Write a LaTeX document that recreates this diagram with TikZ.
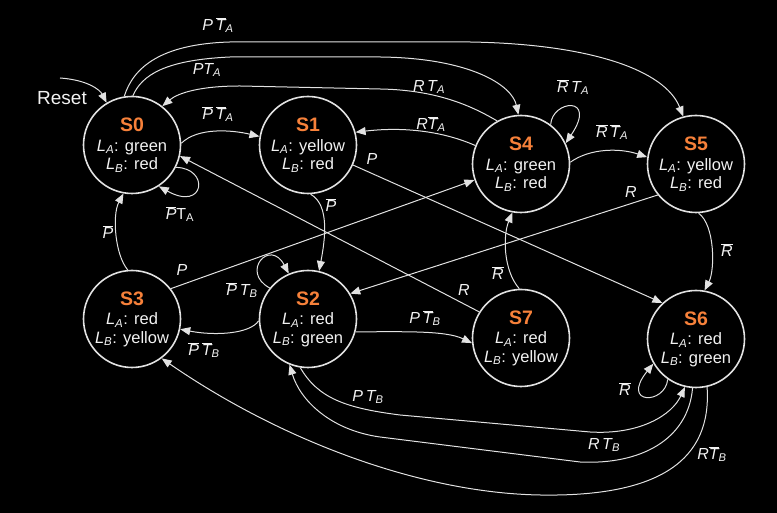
\documentclass[tikz,border=0pt]{standalone}
\usepackage{fontspec}
\setmainfont{Liberation Sans}
\usetikzlibrary{arrows.meta}
\definecolor{sorange}{HTML}{F7813A}
\definecolor{lgray}{HTML}{E2E2E2}
\definecolor{tw}{HTML}{F2F2F2}
\newcommand\ttl[1]{{\fontsize{19.5}{21}\selectfont\bfseries\color{sorange}#1}}
\newcommand\lab[2]{\textit{L}\textsubscript{\textit{#1}}: #2}
\newcommand\nb[1]{$\overline{\mbox{\itshape #1}}$}
\newcommand\ssub[1]{\textsubscript{\itshape #1}}
\begin{document}
\begin{tikzpicture}[x=1pt,y=1pt,
  st/.style={circle,draw=lgray,line width=1.6pt,fill=black,minimum size=97pt,inner sep=0pt,
    align=center,text=tw,font=\fontsize{16.5}{18.5}\selectfont},
  el/.style={text=tw,inner sep=0pt,font=\fontsize{16}{18}\selectfont\itshape},
  tr/.style={draw=lgray,line width=1pt,-{Triangle[length=10pt,width=8pt]},color=lgray},
]
\fill[black] (0,0) rectangle (777,513);
\useasboundingbox (0,0) rectangle (777,513);

% states
\node[st] (s0) at (132,368) {\ttl{S0}\\[1pt]\lab{A}{green}\\\lab{B}{red}};
\node[st] (s1) at (308,368) {\ttl{S1}\\[1pt]\lab{A}{yellow}\\\lab{B}{red}};
\node[st] (s4) at (521,349) {\ttl{S4}\\[1pt]\lab{A}{green}\\\lab{B}{red}};
\node[st] (s5) at (696,349) {\ttl{S5}\\[1pt]\lab{A}{yellow}\\\lab{B}{red}};
\node[st] (s3) at (132,194) {\ttl{S3}\\[1pt]\lab{A}{red}\\\lab{B}{yellow}};
\node[st] (s2) at (308,194) {\ttl{S2}\\[1pt]\lab{A}{red}\\\lab{B}{green}};
\node[st] (s7) at (521,175) {\ttl{S7}\\[1pt]\lab{A}{red}\\\lab{B}{yellow}};
\node[st] (s6) at (696,174) {\ttl{S6}\\[1pt]\lab{A}{red}\\\lab{B}{green}};

% reset
\coordinate (rs) at (60,435);
\node[text=tw,inner sep=0pt,font=\fontsize{19}{21}\selectfont] (lreset) at (62,415) {Reset};
\draw[tr] (rs) .. controls (88,433) and (100,423) .. (s0.121);

% transitions
\draw[tr] (s0.2) .. controls (198,386) and (232,383) .. (s1.170);
\node[el] (l01) at (218,399) {\nb{P}\,\nb{T}\ssub{A}};

\draw[tr] (s0.-27) .. controls (210,345) and (205,301) .. (s0.-57);
\node[el] (l00) at (180,299) {\nb{P}{\upshape T\textsubscript{A}}};

\draw[tr] (s0.99) .. controls (133,445) and (160,469) .. (230,471) -- (470,471) .. controls (590,469) and (665,443) .. (s5.105);
\node[el] (l05) at (218,488) {P\,\nb{T}\ssub{A}};

\draw[tr] (s0.89) .. controls (142,438) and (165,453) .. (230,456) -- (380,456) .. controls (470,455) and (512,428) .. (s4.93);
\node[el] (l04) at (207,443) {PT\ssub{A}};

\draw[tr] (s4.119) .. controls (475,405) and (440,423) .. (380,424) -- (240,427) .. controls (200,427) and (178,420) .. (s0.52);
\node[el] (l40) at (429,426) {R\,T\ssub{A}};

\draw[tr] (s4.158) .. controls (440,383) and (400,386) .. (s1.15);
\node[el] (l41) at (431,389) {R\nb{T}\ssub{A}};

\draw[tr] (s4.53) .. controls (552,413) and (598,418) .. (s4.25);
\node[el] (l44) at (573,426) {\nb{R}\,T\ssub{A}};

\draw[tr] (s4.2) .. controls (590,365) and (620,365) .. (s5.172);
\node[el] (l45) at (612,381) {\nb{R}\,\nb{T}\ssub{A}};

\draw[tr] (s5.-87) .. controls (715,288) and (715,243) .. (s6.80);
\node[el] (l56) at (727,263) {\nb{R}};

\draw[tr] (s5.-141) -- (s2.31);
\node[el] (l52) at (631,321) {R};

\draw[tr] (s1.-87) .. controls (330,308) and (325,273) .. (s2.77);
\node[el] (l12) at (331,308) {\nb{P}};

\draw[tr] (s1.-24) -- (s6.133);
\node[el] (l16) at (372,354) {P};

\draw[tr] (s3.95) .. controls (115,258) and (112,298) .. (s0.-100);
\node[el] (l30) at (108,281) {\nb{P}};

\draw[tr] (s3.38) -- (s4.-161);
\node[el] (l34) at (182,243) {P};

\draw[tr] (s2.141) .. controls (240,241) and (270,275) .. (s2.113);
\node[el] (l22) at (242,223) {\nb{P}\,T\ssub{B}};

\draw[tr] (s2.-178) .. controls (250,179) and (215,177) .. (s3.-12);
\node[el] (l23) at (204,163) {\nb{P}\,\nb{T}\ssub{B}};

\draw[tr] (s2.-15) .. controls (400,181) and (445,183) .. (s7.-174);
\node[el] (l27) at (425,195) {P\,\nb{T}\ssub{B}};

\draw[tr] (s7.92) .. controls (503,243) and (503,278) .. (s4.-100);
\node[el] (l74) at (498,240) {\nb{R}};

\draw[tr] (s7.148) -- (s0.-13);
\node[el] (l70) at (464,223) {R};

\draw[tr] (s6.-125) .. controls (665,108) and (620,108) .. (s6.-150);
\node[el] (l66) at (625,124) {\nb{R}};

\draw[tr] (s2.-99) .. controls (318,115) and (345,105) .. (400,98) -- (590,81) .. controls (640,78) and (672,98) .. (s6.-103);
\node[el] (l26) at (368,116) {P\,T\ssub{B}};

\draw[tr] (s6.-94) .. controls (688,73) and (640,48) .. (580,51) -- (380,76) .. controls (330,83) and (300,113) .. (s2.-112);
\node[el] (l62) at (604,68) {R\,T\ssub{B}};

\draw[tr] (s6.-77) .. controls (712,53) and (660,16) .. (540,18) .. controls (420,20) and (280,73) .. (s3.-53);
\node[el] (l63) at (712,59) {R\nb{T}\ssub{B}};
\end{tikzpicture}
\end{document}
